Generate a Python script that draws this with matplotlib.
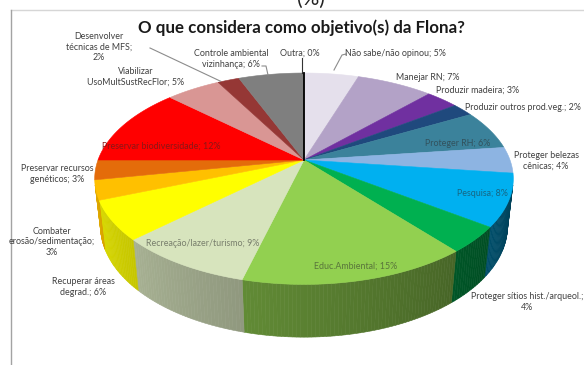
import numpy as np
import matplotlib
matplotlib.use("Agg")
import matplotlib.pyplot as plt
from matplotlib.patches import Polygon
from matplotlib.colors import to_rgb

plt.rcParams['font.family'] = ['Lato', 'DejaVu Sans']

# -------------------------------------------------------
# Data (clockwise from 12 o'clock)
# -------------------------------------------------------
categories = ["Não sabe/não opinou", "Manejar RN", "Produzir madeira",
              "Produzir outros prod.veg.", "Proteger RH", "Proteger belezas cênicas",
              "Pesquisa", "Proteger sítios hist./arqueol.", "Educ.Ambiental",
              "Recreação/lazer/turismo", "Recuperar áreas degrad.",
              "Combater erosão/sedimentação", "Preservar recursos genéticos",
              "Preservar biodiversidade", "Viabilizar UsoMultSustRecFlor",
              "Desenvolver técnicas de MFS", "Controle ambiental vizinhança", "Outra"]
values = [5, 7, 3, 2, 6, 4, 8, 4, 15, 9, 6, 3, 3, 12, 5, 2, 6, 0]
label_text = ["Não sabe/não opinou; 5%", "Manejar RN; 7%", "Produzir madeira; 3%",
              "Produzir outros prod.veg.; 2%", "Proteger RH; 6%",
              "Proteger belezas\ncênicas; 4%", "Pesquisa; 8%",
              "Proteger sítios hist./arqueol.;\n4%", "Educ.Ambiental; 15%",
              "Recreação/lazer/turismo; 9%", "Recuperar áreas\ndegrad.; 6%",
              "Combater\nerosão/sedimentação;\n3%", "Preservar recursos\ngenéticos; 3%",
              "Preservar biodiversidade; 12%", "Viabilizar\nUsoMultSustRecFlor; 5%",
              "Desenvolver\ntécnicas de MFS;\n2%", "Controle ambiental\nvizinhança; 6%",
              "Outra; 0%"]
colors = ["#E5E0EC", "#B3A2C7", "#7030A0", "#1F497D", "#3B829B", "#8DB4E2",
          "#00B0F0", "#00B050", "#92D050", "#D7E4BD", "#FFFF00", "#FFC000",
          "#E46C0A", "#FF0000", "#D99694", "#953735", "#7F7F7F", "#000000"]

# label layout in pixel coords: (x, y, inside?)
label_pos = [(395, 53, False), (428, 77, False), (478, 90, False), (523, 108, False),
             (458, 143, True), (546, 161, False), (482, 193, True), (527, 302, False),
             (356, 266, True), (203, 243, True), (83, 287, False), (52, 242, False),
             (57, 174, False), (161, 146, True), (136, 77, False), (99, 47, False),
             (231, 59, False), (300, 53, False)]

# -------------------------------------------------------
# Perspective 3D pie projection
# -------------------------------------------------------
CX, CY = 304, 160
S = 206
ELEV = np.radians(29.8)
K = 0.204
DEPTH = 0.27


def project(phi, z=0.0, r=1.0):
    x = r * np.cos(phi)
    y = r * np.sin(phi)
    up = y * np.sin(ELEV) + z * np.cos(ELEV)
    fwd = y * np.cos(ELEV) - z * np.sin(ELEV)
    d = 1 + K * fwd
    return CX + S * x / d, CY - S * up / d


def side_color(c, phi):
    # lighter on the left, darker towards the right
    p = (phi + np.pi) % (2 * np.pi) - np.pi
    t = np.clip((p + np.pi) / np.pi, 0, 1)
    s = 0.92 - 0.6 * t
    return tuple(np.array(to_rgb(c)) * s)


fig = plt.figure(figsize=(5.84, 3.65), dpi=100)
ax = fig.add_axes([0, 0, 1, 1])
ax.set_xlim(0, 584)
ax.set_ylim(365, 0)
ax.axis("off")

# frame of the chart area
ax.plot([11, 584], [10, 10], color="#d6d6d6", lw=1.0)
ax.plot([11, 11], [10, 365], color="#a3a3a3", lw=1.0)

fracs = np.array(values, dtype=float) / sum(values)
starts = np.concatenate([[0], np.cumsum(fracs)[:-1]])
ends = starts + fracs
visible_limit = -K / np.cos(ELEV)

# side walls
for st, en, c in zip(starts, ends, colors):
    if en - st <= 0:
        continue
    a0 = np.pi / 2 - 2 * np.pi * st
    a1 = np.pi / 2 - 2 * np.pi * en
    n = max(4, int((en - st) * 400))
    angs = np.linspace(a0, a1, n + 1)
    for p, q in zip(angs[:-1], angs[1:]):
        m = 0.5 * (p + q)
        if np.sin(m) > visible_limit:
            continue
        x0, y0 = project(p)
        x1, y1 = project(q)
        x2, y2 = project(q, -DEPTH)
        x3, y3 = project(p, -DEPTH)
        col = side_color(c, m)
        ax.add_patch(Polygon([(x0, y0), (x1, y1), (x2, y2), (x3, y3)],
                             closed=True, fc=col, ec=col, lw=0.4, zorder=1))

# top faces
for st, en, c in zip(starts, ends, colors):
    if en - st <= 0:
        continue
    a0 = np.pi / 2 - 2 * np.pi * st
    a1 = np.pi / 2 - 2 * np.pi * en
    angs = np.linspace(a0, a1, max(8, int((en - st) * 600)))
    xs, ys = project(angs)
    pts = [(CX, CY)] + list(zip(xs, ys))
    ax.add_patch(Polygon(pts, closed=True, fc=c, ec=c, lw=0.4, zorder=2))

# zero slice drawn as its border line
for st, en, c in zip(starts, ends, colors):
    if en - st == 0:
        a = np.pi / 2 - 2 * np.pi * st
        ex, ey = project(a)
        ax.plot([CX, ex], [CY, ey], color=c, lw=1.3, zorder=3)

# leader lines for labels sitting above the pie
def edge(i):
    m = np.pi / 2 - 2 * np.pi * (starts[i] + ends[i]) / 2
    return project(m)

lc = "#8c8c8c"
ex, ey = edge(15)
ax.plot([150, ex - 8], [48, ey + 1], color=lc, lw=0.8, zorder=4)
ex, ey = edge(16)
ax.plot([262, 266, 268], [66, 66, 75], color=lc, lw=0.8, zorder=4)
ex, ey = project(np.pi / 2 - 2 * np.pi * starts[17])
ax.plot([302, 302], [58, ey], color="#333333", lw=0.8, zorder=4)
ax.plot([346, 342, 334], [54, 55, 70], color=lc, lw=0.8, zorder=4)

# labels
for i, txt in enumerate(label_text):
    x, y, inside = label_pos[i]
    if inside:
        tc = tuple(0.45 * np.array(to_rgb(colors[i])) + 0.55 * np.array(to_rgb("#2a2a2a")))
    else:
        tc = "#404040"
    ax.text(x, y, txt, ha="center", va="center", fontsize=6.4, color=tc,
            linespacing=1.25, zorder=5)

ax.text(301, 28, "O que considera como objetivo(s) da Flona?", ha="center",
        va="center", fontsize=12.2, fontweight="bold", color="#1a1a1a")
ax.text(311, 5, "(%)", ha="center", va="baseline", fontsize=15, color="#222222")

fig.savefig("out.png", dpi=100)
